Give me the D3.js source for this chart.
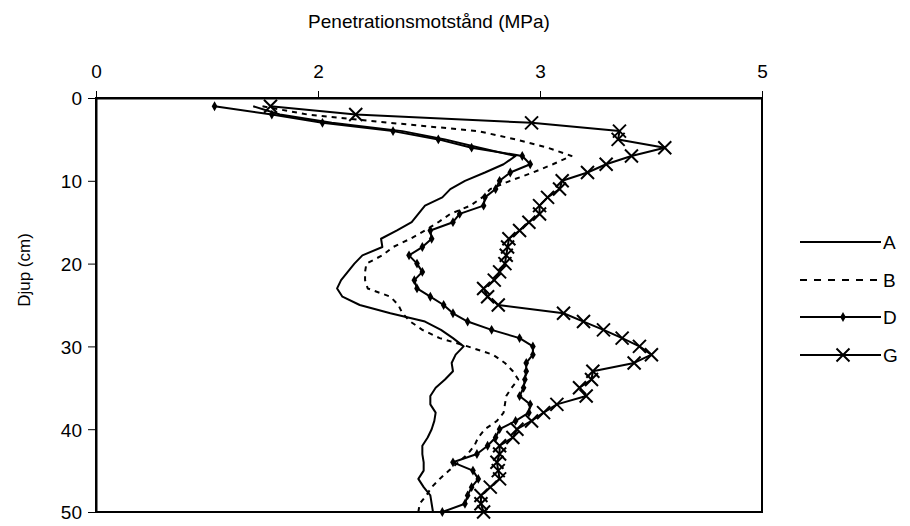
<!DOCTYPE html>
<html>
<head>
<meta charset="utf-8">
<script src="https://cdn.jsdelivr.net/npm/d3@7"></script>
<style>
  body { margin: 0; background: #fff; }
  text { font-family: "Liberation Sans", Arial, sans-serif; fill: #000; }
</style>
</head>
<body>
<div id="mainDiv"></div>
<script>
'use strict';

// depth (cm), one reading per cm
var depth = [1, 2, 3, 4, 5, 6, 7, 8, 9, 10, 11, 12, 13, 14, 15, 16, 17, 18, 19, 20,
             21, 22, 23, 24, 25, 26, 27, 28, 29, 30, 31, 32, 33, 34, 35, 36, 37, 38, 39, 40,
             41, 42, 43, 44, 45, 46, 47, 48, 49, 50];

// penetration resistance (MPa) per treatment
var seriesA = [1.18, 1.38, 1.77, 2.30, 2.62, 2.88, 3.15, 3.06, 2.92, 2.77,
               2.66, 2.60, 2.47, 2.42, 2.37, 2.26, 2.14, 2.15, 2.00, 1.94,
               1.89, 1.84, 1.81, 1.85, 1.98, 2.21, 2.47, 2.59, 2.68, 2.76,
               2.70, 2.67, 2.68, 2.62, 2.55, 2.51, 2.51, 2.55, 2.54, 2.52,
               2.49, 2.45, 2.45, 2.46, 2.46, 2.42, 2.46, 2.51, 2.52, 2.53];
var seriesB = [1.25, 1.59, 2.21, 2.87, 3.15, 3.39, 3.57, 3.43, 3.28, 3.11,
               2.96, 2.90, 2.81, 2.66, 2.57, 2.47, 2.36, 2.23, 2.15, 2.03,
               2.02, 2.02, 2.04, 2.21, 2.27, 2.30, 2.36, 2.45, 2.58, 2.79,
               2.98, 3.07, 3.13, 3.17, 3.12, 3.08, 3.07, 3.06, 3.01, 2.92,
               2.87, 2.84, 2.79, 2.72, 2.65, 2.58, 2.52, 2.48, 2.43, 2.42];
var seriesD = [0.89, 1.32, 1.70, 2.23, 2.57, 2.82, 3.20, 3.26, 3.11, 3.03,
               3.00, 2.92, 2.91, 2.73, 2.68, 2.51, 2.52, 2.45, 2.35, 2.41,
               2.45, 2.39, 2.41, 2.51, 2.61, 2.68, 2.79, 2.97, 3.18, 3.28,
               3.28, 3.23, 3.23, 3.22, 3.21, 3.18, 3.26, 3.25, 3.15, 3.03,
               3.00, 2.94, 2.86, 2.68, 2.83, 2.87, 2.82, 2.79, 2.77, 2.60];
var seriesG = [1.31, 1.95, 3.27, 3.93, 3.92, 4.27, 4.02, 3.83, 3.69, 3.50,
               3.48, 3.39, 3.33, 3.33, 3.25, 3.18, 3.10, 3.09, 3.08, 3.07,
               3.03, 2.99, 2.91, 2.94, 3.02, 3.51, 3.66, 3.81, 3.95, 4.08,
               4.17, 4.04, 3.73, 3.72, 3.63, 3.68, 3.46, 3.36, 3.27, 3.16,
               3.13, 3.03, 3.03, 3.01, 3.02, 3.03, 2.96, 2.89, 2.89, 2.91];

var seriesNames = ['A', 'B', 'D', 'G'];

// ticks (x axis runs 0-5 in thirds, labels rounded to whole numbers)
var xTicks = [0, 5 / 3, 10 / 3, 5];
var yTicks = [0, 10, 20, 30, 40, 50];

var chart = {};

chart.w = 666;   // plot width
chart.h = 414;   // plot height
chart.margins = {top: 98, left: 96};
chart.fontSize = 19;

chart.xScale = d3.scaleLinear().domain([0, 5]).range([0, chart.w]);
chart.yScale = d3.scaleLinear().domain([0, 50]).range([0, chart.h]);

// how each series is drawn
chart.styles = {
    A: {dash: null, marker: 'none'},
    B: {dash: '5,5', marker: 'none'},
    D: {dash: null, marker: 'dot'},
    G: {dash: null, marker: 'cross'}
};

chart.appendSvg = function(div)
{
    var svg = d3.select(div).append('svg')
        .attr('width', 910)
        .attr('height', 526);
    return svg;
}

chart.appendPlot = function(svg)
{
    var g = svg.append('g')
        .attr('transform', 'translate(' + chart.margins.left + ',' + chart.margins.top + ')');

    // plot frame
    g.append('rect')
        .attr('width', chart.w)
        .attr('height', chart.h)
        .attr('fill', 'none')
        .attr('stroke', '#000')
        .attr('stroke-width', 2);

    return g;
}

chart.createAxis = function(g)
{
    var xAxis = d3.axisTop(chart.xScale)
        .tickValues(xTicks)
        .tickFormat(d3.format('.0f'))
        .tickSize(7)
        .tickSizeOuter(0)
        .tickPadding(13);

    var yAxis = d3.axisLeft(chart.yScale)
        .tickValues(yTicks)
        .tickSize(8)
        .tickSizeOuter(0)
        .tickPadding(6);

    var gx = g.append('g').attr('class', 'xAxis').call(xAxis);
    var gy = g.append('g').attr('class', 'yAxis').call(yAxis);

    [gx, gy].forEach(function(a) {
        a.select('.domain').attr('stroke-width', 2);
        a.selectAll('.tick line').attr('stroke-width', 1);
        a.selectAll('.tick text')
            .style('font-size', chart.fontSize + 'px')
            .style('font-family', '"Liberation Sans", Arial, sans-serif');
    });
    gy.selectAll('.tick text').attr('dy', '0.36em');
}

chart.drawMarker = function(sel, type)
{
    if (type === 'dot')
    {
        sel.append('path')
            .attr('d', d3.symbol().type(d3.symbolDiamond).size(28))
            .attr('fill', '#000');
    }
    else if (type === 'cross')
    {
        sel.append('path')
            .attr('d', 'M-6.5,-6.5L6.5,6.5M-6.5,6.5L6.5,-6.5')
            .attr('stroke', '#000')
            .attr('stroke-width', 2)
            .attr('fill', 'none');
    }
}

chart.drawSeries = function(g, name, values)
{
    var data = depth.map(function(d, i) { return {depth: d, v: values[i]}; });
    var st = chart.styles[name];

    var line = d3.line()
        .x(function(d) { return chart.xScale(d.v); })
        .y(function(d) { return chart.yScale(d.depth); });

    g.append('path')
        .datum(data)
        .attr('fill', 'none')
        .attr('stroke', '#000')
        .attr('stroke-width', 2)
        .attr('stroke-linejoin', 'round')
        .attr('stroke-dasharray', st.dash)
        .attr('d', line);

    if (st.marker !== 'none')
    {
        var m = g.append('g').selectAll('g')
            .data(data)
            .enter()
            .append('g')
            .attr('transform', function(d) {
                return 'translate(' + chart.xScale(d.v) + ',' + chart.yScale(d.depth) + ')';
            });
        chart.drawMarker(m, st.marker);
    }
}

chart.addLegend = function(svg)
{
    var legend = svg.append('g').attr('class', 'legend');
    var rowY = [242, 280, 317, 355];

    seriesNames.forEach(function(name, i) {
        var st = chart.styles[name];
        var row = legend.append('g').attr('transform', 'translate(0,' + rowY[i] + ')');

        row.append('line')
            .attr('x1', 800).attr('x2', 881)
            .attr('stroke', '#000')
            .attr('stroke-width', 2)
            .attr('stroke-dasharray', name === 'B' ? '7,7' : st.dash);

        if (st.marker !== 'none')
        {
            var m = row.append('g').attr('transform', 'translate(843,0)');
            chart.drawMarker(m, st.marker);
        }

        row.append('text')
            .attr('x', 883)
            .attr('dy', '0.36em')
            .style('font-size', chart.fontSize + 'px')
            .text(name);
    });
}

chart.addAxisLabel = function(svg)
{
    svg.append('text')
        .attr('text-anchor', 'middle')
        .attr('x', chart.margins.left + chart.w / 2)
        .attr('y', 28)
        .style('font-size', chart.fontSize + 'px')
        .text('Penetrationsmotstånd (MPa)');

    svg.append('text')
        .attr('text-anchor', 'middle')
        .attr('transform', 'translate(30,270) rotate(-90)')
        .style('font-size', '17px')
        .text('Djup (cm)');
}

chart.run = function()
{
    var svg = chart.appendSvg('#mainDiv');
    var g = chart.appendPlot(svg);
    chart.createAxis(g);

    chart.drawSeries(g, 'A', seriesA);
    chart.drawSeries(g, 'B', seriesB);
    chart.drawSeries(g, 'D', seriesD);
    chart.drawSeries(g, 'G', seriesG);

    chart.addLegend(svg);
    chart.addAxisLabel(svg);
}

window.onload = chart.run;
</script>
</body>
</html>
